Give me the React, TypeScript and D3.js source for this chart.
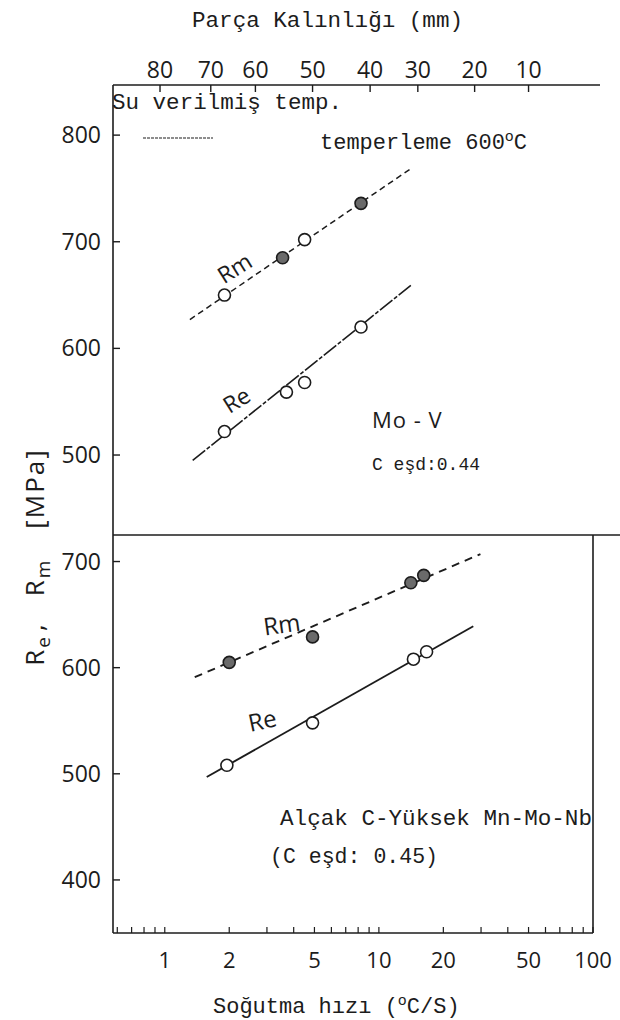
import * as d3 from "d3";
import React from "react";

// cooling rate (°C/s) on the bottom log axis
const rateTicks = [1, 2, 5, 10, 20, 50, 100];
const rateMinor = [0.6, 0.7, 0.8, 0.9, 1, 2, 3, 4, 5, 6, 7, 8, 9, 10, 20, 30, 40, 50, 60, 70, 80, 90, 100];

// plate thickness (mm) on top axis, with the cooling rate each sits over
const thickTicks = [80, 70, 60, 50, 40, 30, 20, 10];
const thickRate = [0.95, 1.64, 2.65, 4.9, 9.1, 15.2, 28, 50];

const upperTicks = [800, 700, 600, 500];
const lowerTicks = [700, 600, 500, 400];

// Mo-V (upper panel)
const moRmRate = [1.9, 3.55, 4.5, 8.25];
const moRm = [650, 685, 702, 736];
const moRmFilled = [false, true, false, true];
const moRmFitRate = [1.31, 14.2];
const moRmFit = [627, 769];

const moReRate = [1.9, 3.7, 4.5, 8.25];
const moRe = [522, 559, 568, 620];
const moReFitRate = [1.35, 14.1];
const moReFit = [495, 659];

// low C - high Mn-Mo-Nb (lower panel)
const nbRmRate = [2, 4.9, 14.1, 16.2];
const nbRm = [605, 629, 680, 687];
const nbRmFitRate = [1.38, 29.8];
const nbRmFit = [591, 707];

const nbReRate = [1.95, 4.9, 14.5, 16.7];
const nbRe = [508, 548, 608, 615];
const nbReFitRate = [1.57, 27.6];
const nbReFit = [497, 639];

const W = 620;
const H = 1020;
const left = 113;
const right = 593;
const top = 85;
const mid = 535;
const bottom = 933;

const ink = "#1c1c1c";
const mono = "'Liberation Mono', 'DejaVu Sans Mono', monospace";
const sans = "'Open Sans', 'DejaVu Sans', sans-serif";

const x = d3.scaleLog().domain([0.573, 100]).range([left, right]);
const yTop = d3.scaleLinear().domain([425, 847]).range([mid, top]);
const yBot = d3.scaleLinear().domain([350, 725]).range([bottom, mid]);

type Scale = d3.ScaleLinear<number, number>;

const fitLine = (rates: number[], vals: number[], y: Scale) =>
  d3
    .line<number>()
    .x((d) => x(d))
    .y((_, i) => y(vals[i]))(rates) || "";

const App = () => {
  const series = [
    { rates: moRmFitRate, vals: moRmFit, y: yTop, dash: "6 4", w: 1.5 },
    { rates: moReFitRate, vals: moReFit, y: yTop, dash: "16 2 4 2", w: 1.6 },
    { rates: nbRmFitRate, vals: nbRmFit, y: yBot, dash: "8 6", w: 1.9 },
    { rates: nbReFitRate, vals: nbReFit, y: yBot, dash: null, w: 1.9 },
  ];

  const markers = [
    ...moRmRate.map((r, i) => ({ r, v: moRm[i], y: yTop, filled: moRmFilled[i] })),
    ...moReRate.map((r, i) => ({ r, v: moRe[i], y: yTop, filled: false })),
    ...nbRmRate.map((r, i) => ({ r, v: nbRm[i], y: yBot, filled: true })),
    ...nbReRate.map((r, i) => ({ r, v: nbRe[i], y: yBot, filled: false })),
  ];

  return (
    <svg width={W} height={H} style={{ position: "absolute", left: 0, top: 0, background: "#fff" }}>
      <rect width={W} height={H} fill="#fff" />

      {/* top axis */}
      <text x={192} y={27} fontFamily={mono} fontSize={22} fill={ink} textLength={271} lengthAdjust="spacingAndGlyphs">
        Parça Kalınlığı (mm)
      </text>
      <line x1={left} x2={600} y1={top} y2={top} stroke={ink} strokeWidth={1.6} />
      {thickTicks.map((t, i) => (
        <g key={"tt" + t}>
          <line x1={x(thickRate[i])} x2={x(thickRate[i])} y1={top} y2={top + 7} stroke={ink} strokeWidth={1.4} />
          <text x={x(thickRate[i])} y={78} textAnchor="middle" fontFamily={sans} fontSize={23} fill={ink}>
            {t}
          </text>
        </g>
      ))}

      {/* frame */}
      <line x1={left} x2={left} y1={top} y2={bottom} stroke={ink} strokeWidth={1.6} />
      <line x1={left} x2={right} y1={bottom} y2={bottom} stroke={ink} strokeWidth={1.6} />
      <line x1={right} x2={right} y1={mid} y2={bottom} stroke={ink} strokeWidth={1.6} />
      <line x1={left} x2={W} y1={mid} y2={mid} stroke={ink} strokeWidth={1.4} />

      {/* left ticks */}
      {upperTicks.map((t) => (
        <g key={"u" + t}>
          <line x1={left} x2={left + 7} y1={yTop(t)} y2={yTop(t)} stroke={ink} strokeWidth={1.4} />
          <text x={101} y={yTop(t) + 8} textAnchor="end" fontFamily={sans} fontSize={23} fill={ink}>
            {t}
          </text>
        </g>
      ))}
      {lowerTicks.map((t) => (
        <g key={"l" + t}>
          <line x1={left} x2={left + 7} y1={yBot(t)} y2={yBot(t)} stroke={ink} strokeWidth={1.4} />
          <text x={101} y={yBot(t) + 8} textAnchor="end" fontFamily={sans} fontSize={23} fill={ink}>
            {t}
          </text>
        </g>
      ))}

      {/* bottom axis */}
      {rateMinor.map((t) => (
        <line key={"m" + t} x1={x(t)} x2={x(t)} y1={bottom} y2={bottom - 6} stroke={ink} strokeWidth={1.2} />
      ))}
      {rateTicks.map((t) => (
        <text key={"r" + t} x={x(t)} y={968} textAnchor="middle" fontFamily={sans} fontSize={22} fill={ink}>
          {t}
        </text>
      ))}
      <text x={213} y={1013} fontFamily={mono} fontSize={22} fill={ink}>
        Soğutma hızı (<tspan fontSize={15} dy={-8}>o</tspan>
        <tspan dy={8}>C/S)</tspan>
      </text>

      {/* y title */}
      <text transform="translate(44,557) rotate(-90)" textAnchor="middle" fontFamily={sans} fontSize={26} fill={ink} letterSpacing={2}>
        R<tspan fontSize={19} dy={6}>e</tspan>
        <tspan dy={-6} dx={4}>,</tspan>
        <tspan dx={26}>R</tspan>
        <tspan fontSize={19} dy={6}>m</tspan>
        <tspan dy={-6} dx={30}>[MPa]</tspan>
      </text>

      {/* fit lines */}
      {series.map((s, i) => (
        <path
          key={"s" + i}
          d={fitLine(s.rates, s.vals, s.y)}
          fill="none"
          stroke={ink}
          strokeWidth={s.w}
          strokeDasharray={s.dash || undefined}
        />
      ))}

      {/* data points */}
      {markers.map((m, i) => (
        <circle
          key={"p" + i}
          cx={x(m.r)}
          cy={m.y(m.v)}
          r={6}
          fill={m.filled ? "#6a6a6a" : "#fff"}
          stroke={ink}
          strokeWidth={1.6}
        />
      ))}

      {/* upper panel notes */}
      <text x={112} y={109} fontFamily={mono} fontSize={22} fill={ink} textLength={230} lengthAdjust="spacingAndGlyphs">
        Su verilmiş temp.
      </text>
      <line x1={143} x2={213} y1={138} y2={138} stroke={ink} strokeWidth={1.2} strokeDasharray="3 1" />
      <text x={320} y={149} fontFamily={mono} fontSize={22} fill={ink}>
        temperleme 600<tspan fontSize={15} dy={-8}>o</tspan>
        <tspan dy={8}>C</tspan>
      </text>
      <text transform="translate(239,275) rotate(-32)" textAnchor="middle" fontFamily={sans} fontSize={23} fill={ink}>
        Rm
      </text>
      <text transform="translate(241,407) rotate(-32)" textAnchor="middle" fontFamily={sans} fontSize={23} fill={ink}>
        Re
      </text>
      <text x={372} y={428} fontFamily={sans} fontSize={22} fill={ink} letterSpacing={1}>
        Mo - V
      </text>
      <text x={372} y={470} fontFamily={mono} fontSize={18} fill={ink}>
        C eşd:0.44
      </text>

      {/* lower panel notes */}
      <text transform="translate(283,633) rotate(-8)" textAnchor="middle" fontFamily={sans} fontSize={24} fill={ink}>
        Rm
      </text>
      <text transform="translate(264,729) rotate(-12)" textAnchor="middle" fontFamily={sans} fontSize={24} fill={ink}>
        Re
      </text>
      <text x={280} y={825} fontFamily={mono} fontSize={22} fill={ink} textLength={312} lengthAdjust="spacingAndGlyphs">
        Alçak C-Yüksek Mn-Mo-Nb
      </text>
      <text x={270} y={863} fontFamily={mono} fontSize={22} fill={ink} textLength={168} lengthAdjust="spacingAndGlyphs">
        (C eşd: 0.45)
      </text>
    </svg>
  );
};

export default App;
